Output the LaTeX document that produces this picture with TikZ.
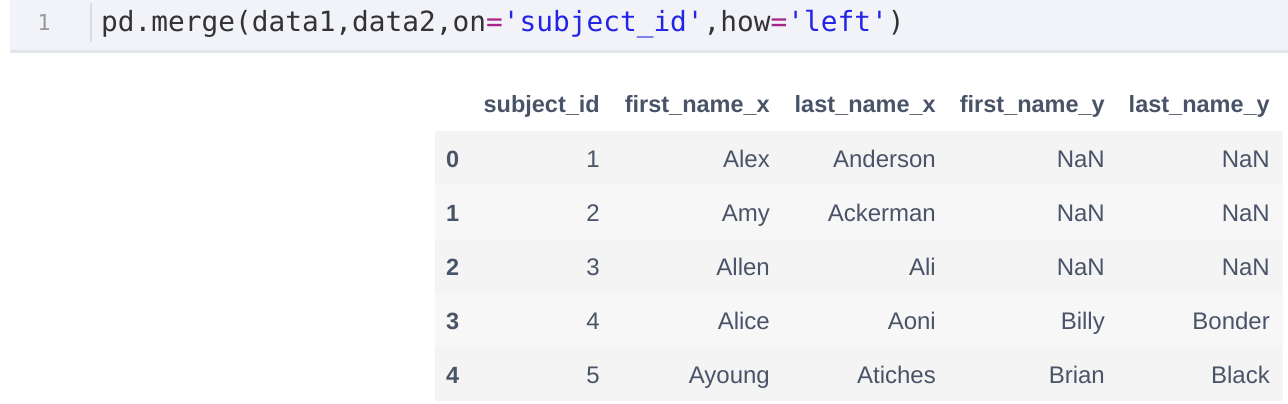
\documentclass[tikz,border=0pt]{standalone}
\usepackage{fontspec}
\setmainfont{Liberation Sans}
\newfontfamily\codefont{DejaVu Sans Mono}
\definecolor{codebg}{HTML}{F1F3F8}
\definecolor{codeline}{HTML}{E1E5EC}
\definecolor{codetxt}{HTML}{333333}
\definecolor{codeeq}{HTML}{A8268A}
\definecolor{codestr}{HTML}{2424E6}
\definecolor{lnum}{HTML}{9A9A9A}
\definecolor{sepline}{HTML}{DDDDDD}
\definecolor{tabtxt}{HTML}{4A5468}
\definecolor{rowA}{HTML}{F4F4F4}
\definecolor{rowB}{HTML}{F7F7F7}
\begin{document}
\begin{tikzpicture}[x=1pt,y=-1pt,
  hdr/.style={inner sep=0pt,anchor=base east,text=tabtxt,font=\fontsize{23.5}{26}\selectfont\bfseries},
  idx/.style={inner sep=0pt,anchor=base west,text=tabtxt,font=\fontsize{23.5}{26}\selectfont\bfseries},
  cell/.style={inner sep=0pt,anchor=base east,text=tabtxt,font=\fontsize{24}{26}\selectfont},
  code/.style={inner sep=0pt,anchor=base west,text=codetxt,font=\codefont\fontsize{27.8}{30}\selectfont}]
\useasboundingbox (0,0) rectangle (1288,404);
\fill[white] (0,0) rectangle (1288,404);
% code cell
\fill[codebg] (10,0) rectangle (1288,51);
\fill[codeline] (10,50) rectangle (1288,53);
\draw[sepline,line width=1.5pt] (91,3) -- (91,42);
\node[inner sep=0pt,anchor=base,text=lnum,font=\codefont\fontsize{22}{24}\selectfont] (ln) at (44,31) {1};
\node[code] (code) at (101,32) {pd.merge(data1,data2,on\textcolor{codeeq}{=}\textcolor{codestr}{'subject\_id'},how\textcolor{codeeq}{=}\textcolor{codestr}{'left'})};
% table stripes
\foreach \i/\c in {0/rowA,1/rowB,2/rowA,3/rowB,4/rowA}{
  \fill[\c] (435,131+54*\i) rectangle (1283,185+54*\i);
}
% header
\node[hdr] (h1) at (600,113) {subject\_id};
\node[hdr] (h2) at (770,113) {first\_name\_x};
\node[hdr] (h3) at (936,113) {last\_name\_x};
\node[hdr] (h4) at (1105,113) {first\_name\_y};
\node[hdr] (h5) at (1270,113) {last\_name\_y};
% rows
\foreach \i/\a/\b/\cc/\d/\e [count=\k from 0] in {
  0/1/Alex/Anderson/NaN/NaN,
  1/2/Amy/Ackerman/NaN/NaN,
  2/3/Allen/Ali/NaN/NaN,
  3/4/Alice/Aoni/Billy/Bonder,
  4/5/Ayoung/Atiches/Brian/Black}{
  \pgfmathsetmacro{\yy}{167+54*\k}
  \node[idx] (r\k i) at (446,\yy) {\i};
  \node[cell] (r\k a) at (600,\yy) {\a};
  \node[cell] (r\k b) at (770,\yy) {\b};
  \node[cell] (r\k c) at (936,\yy) {\cc};
  \node[cell] (r\k d) at (1105,\yy) {\d};
  \node[cell] (r\k e) at (1270,\yy) {\e};
}
\end{tikzpicture}
\end{document}
